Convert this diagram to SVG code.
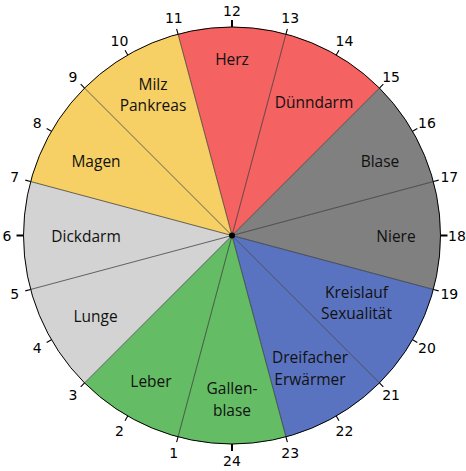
<svg xmlns="http://www.w3.org/2000/svg" width="466" height="471" viewBox="0 0 466 471">
<style>
.red{fill:#f46262}.yel{fill:#f6d064}.gry{fill:#808080}.lgr{fill:#d3d3d3}.blu{fill:#5a73c0}.grn{fill:#64bd64}
.lbl{font-family:"Open Sans","Liberation Sans",sans-serif;font-size:15.5px;fill:#111;text-anchor:middle}
.num{font-family:"DejaVu Sans","Liberation Sans",sans-serif;font-size:14px;fill:#000;text-anchor:middle}
.div{stroke:#2a2a2a;stroke-width:0.7;fill:none}
.tick{stroke:#000;stroke-width:1.1}
.main{stroke:#000;stroke-width:2}
</style>
<rect width="466" height="471" fill="#fff"/>
<g id="sectors">
<g id="herz"><path class="red" d="M232,235.5 L178.04,34.10 A208.5,208.5 0 0 1 285.96,34.10 Z"/><text class="lbl" x="232" y="65">Herz</text></g>
<g id="duenndarm"><path class="red" d="M232,235.5 L285.96,34.10 A208.5,208.5 0 0 1 379.43,88.07 Z"/><text class="lbl" x="314" y="108">Dünndarm</text></g>
<g id="blase"><path class="gry" d="M232,235.5 L379.43,88.07 A208.5,208.5 0 0 1 433.40,181.54 Z"/><text class="lbl" x="380" y="167">Blase</text></g>
<g id="niere"><path class="gry" d="M232,235.5 L433.40,181.54 A208.5,208.5 0 0 1 433.40,289.46 Z"/><text class="lbl" x="396" y="242">Niere</text></g>
<g id="kreislauf"><path class="blu" d="M232,235.5 L433.40,289.46 A208.5,208.5 0 0 1 379.43,382.93 Z"/><text class="lbl" x="356.5" y="298">Kreislauf</text><text class="lbl" x="356.5" y="319">Sexualität</text></g>
<g id="dreifacher"><path class="blu" d="M232,235.5 L379.43,382.93 A208.5,208.5 0 0 1 285.96,436.90 Z"/><text class="lbl" x="310" y="363">Dreifacher</text><text class="lbl" x="310" y="385">Erwärmer</text></g>
<g id="gallenblase"><path class="grn" d="M232,235.5 L285.96,436.90 A208.5,208.5 0 0 1 178.04,436.90 Z"/><text class="lbl" x="232" y="394">Gallen-</text><text class="lbl" x="232" y="416">blase</text></g>
<g id="leber"><path class="grn" d="M232,235.5 L178.04,436.90 A208.5,208.5 0 0 1 84.57,382.93 Z"/><text class="lbl" x="151" y="386.5">Leber</text></g>
<g id="lunge"><path class="lgr" d="M232,235.5 L84.57,382.93 A208.5,208.5 0 0 1 30.60,289.46 Z"/><text class="lbl" x="95.5" y="322">Lunge</text></g>
<g id="dickdarm"><path class="lgr" d="M232,235.5 L30.60,289.46 A208.5,208.5 0 0 1 30.60,181.54 Z"/><text class="lbl" x="86" y="242">Dickdarm</text></g>
<g id="magen"><path class="yel" d="M232,235.5 L30.60,181.54 A208.5,208.5 0 0 1 84.57,88.07 Z"/><text class="lbl" x="96" y="167">Magen</text></g>
<g id="milz"><path class="yel" d="M232,235.5 L84.57,88.07 A208.5,208.5 0 0 1 178.04,34.10 Z"/><text class="lbl" x="153" y="89.5">Milz</text><text class="lbl" x="153" y="111">Pankreas</text></g>
</g>
<g id="connectors">
<path class="div" d="M232,235.5L178.04,34.10M232,235.5L285.96,34.10M232,235.5L379.43,88.07M232,235.5L433.40,181.54M232,235.5L433.40,289.46M232,235.5L379.43,382.93M232,235.5L285.96,436.90M232,235.5L178.04,436.90M232,235.5L84.57,382.93M232,235.5L30.60,289.46M232,235.5L30.60,181.54M232,235.5L84.57,88.07"/>
<circle cx="232" cy="235.5" r="208.5" fill="none" stroke="#000" stroke-width="1"/>
<path class="tick" d="M178.04,34.10L176.61,28.79M285.96,34.10L287.39,28.79M379.43,88.07L383.32,84.18M433.40,181.54L438.71,180.11M433.40,289.46L438.71,290.89M379.43,382.93L383.32,386.82M285.96,436.90L287.39,442.21M178.04,436.90L176.61,442.21M84.57,382.93L80.68,386.82M30.60,289.46L25.29,290.89M30.60,181.54L25.29,180.11M84.57,88.07L80.68,84.18"/>
<path class="tick" d="M336.25,54.93L339,50.17M127.75,54.93L125,50.17M412.57,131.25L417.33,128.5M51.43,131.25L46.67,128.5M412.57,339.75L417.33,342.5M51.43,339.75L46.67,342.5M336.25,416.07L339,420.83M127.75,416.07L125,420.83"/>
<path class="main" d="M232,27L232,20M232,444L232,451M440.5,235.5L447.5,235.5M23.5,235.5L16.5,235.5"/>
<circle cx="232" cy="235.5" r="3" fill="#000"/>
</g>
<g id="hours">
<text class="num" x="232" y="15.6">12</text>
<text class="num" x="290.2" y="23.3">13</text>
<text class="num" x="344.5" y="45.7">14</text>
<text class="num" x="391.1" y="81.5">15</text>
<text class="num" x="426.9" y="128.1">16</text>
<text class="num" x="449.3" y="182.4">17</text>
<text class="num" x="457" y="240.6">18</text>
<text class="num" x="449.3" y="298.8">19</text>
<text class="num" x="426.9" y="353.1">20</text>
<text class="num" x="391.1" y="399.7">21</text>
<text class="num" x="344.5" y="435.5">22</text>
<text class="num" x="290.2" y="457.9">23</text>
<text class="num" x="232" y="465.6">24</text>
<text class="num" x="173.8" y="457.9">1</text>
<text class="num" x="119.5" y="435.5">2</text>
<text class="num" x="72.9" y="399.7">3</text>
<text class="num" x="37.1" y="353.1">4</text>
<text class="num" x="14.7" y="298.8">5</text>
<text class="num" x="7" y="240.6">6</text>
<text class="num" x="14.7" y="182.4">7</text>
<text class="num" x="37.1" y="128.1">8</text>
<text class="num" x="72.9" y="81.5">9</text>
<text class="num" x="119.5" y="45.7">10</text>
<text class="num" x="173.8" y="23.3">11</text>
</g>
</svg>
